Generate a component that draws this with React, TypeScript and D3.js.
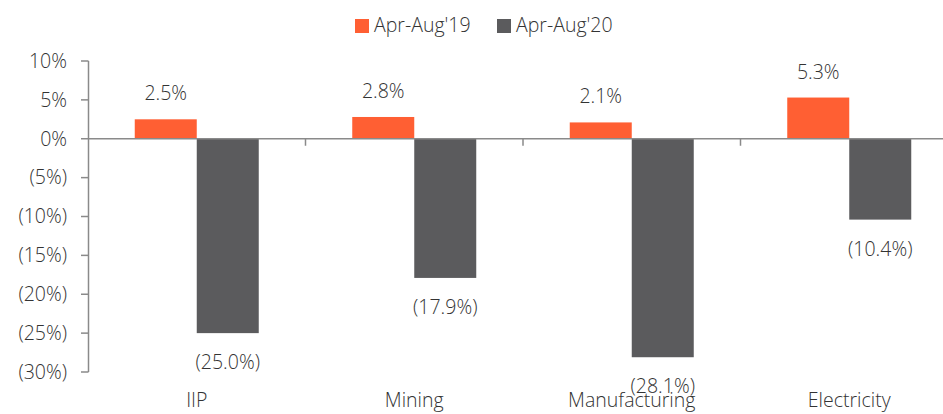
import React from "react";
import * as d3 from "d3";

const categories = ["IIP", "Mining", "Manufacturing", "Electricity"];
const series = ["Apr-Aug'19", "Apr-Aug'20"];
const values19 = [2.5, 2.8, 2.1, 5.3];
const values20 = [-25.0, -17.9, -28.1, -10.4];
const yTicks = [10, 5, 0, -5, -10, -15, -20, -25, -30];
const colors = ["#FF5F33", "#5B5B5D"];

const W = 943;
const H = 414;
const FONT = "'Open Sans', Lato, sans-serif";
const FS = 19.5;

const fmtTick = (v: number) => (v < 0 ? `(${Math.abs(v)}%)` : `${v}%`);
const fmtVal = (v: number) => (v < 0 ? `(${Math.abs(v).toFixed(1)}%)` : `${v.toFixed(1)}%`);

export default function App() {
  const y = d3.scaleLinear().domain([-30, 10]).range([372, 61]);
  const x = d3.scaleBand<string>().domain(categories).range([88, 958]).padding(0);
  const x1 = d3.scaleBand<string>().domain(series).range([0, 124]).padding(0);
  const data = [values19, values20];
  const axisColor = "#8a8a8a";
  const textColor = "#333";

  return (
    <svg width={W} height={H} style={{ position: "absolute", left: 0, top: 0, background: "#fff" }}>
      {/* legend */}
      {series.map((s, i) => {
        const lx = i === 0 ? 355 : 497;
        return (
          <g key={s}>
            <rect x={lx} y={19} width={14} height={14} fill={colors[i]} />
            <text x={lx + 19} y={32} fontFamily={FONT} fontWeight={300} fontSize={FS} fill={textColor}>
              {s}
            </text>
          </g>
        );
      })}

      {/* y axis */}
      <line x1={88.5} x2={88.5} y1={y(10)} y2={y(-30)} stroke={axisColor} strokeWidth={1.5} />
      {yTicks.map((t) => (
        <g key={t}>
          <line x1={81} x2={88.5} y1={y(t)} y2={y(t)} stroke={axisColor} strokeWidth={1.5} />
          <text x={67} y={y(t)} dy="0.35em" textAnchor="end" fontFamily={FONT} fontWeight={300} fontSize={FS} fill={textColor}>
            {fmtTick(t)}
          </text>
        </g>
      ))}

      {/* bars */}
      {categories.map((c, ci) => {
        const cx = (x(c) as number) + x.bandwidth() / 2 - 62;
        return (
          <g key={c}>
            {series.map((s, si) => {
              const v = data[si][ci];
              const bx = cx + (x1(s) as number);
              const top = y(Math.max(0, v));
              const h = Math.abs(y(v) - y(0));
              const labelY = v >= 0 ? y(v) - 19 : y(v) + 36;
              return (
                <g key={s}>
                  <rect x={bx} y={top} width={x1.bandwidth()} height={h} fill={colors[si]} />
                  <text x={bx + x1.bandwidth() / 2} y={labelY} textAnchor="middle" fontFamily={FONT} fontWeight={300} fontSize={FS} fill={textColor}>
                    {fmtVal(v)}
                  </text>
                </g>
              );
            })}
          </g>
        );
      })}

      {/* x axis at zero */}
      <line x1={88} x2={W} y1={y(0)} y2={y(0)} stroke={axisColor} strokeWidth={1.5} />
      {categories.slice(1).map((c) => (
        <line key={c} x1={(x(c) as number)} x2={(x(c) as number)} y1={y(0)} y2={y(0) + 7} stroke={axisColor} strokeWidth={1.5} />
      ))}
      {categories.map((c) => (
        <text key={c} x={(x(c) as number) + x.bandwidth() / 2} y={407} textAnchor="middle" fontFamily={FONT} fontWeight={300} fontSize={FS} fill={textColor}>
          {c}
        </text>
      ))}
    </svg>
  );
}
